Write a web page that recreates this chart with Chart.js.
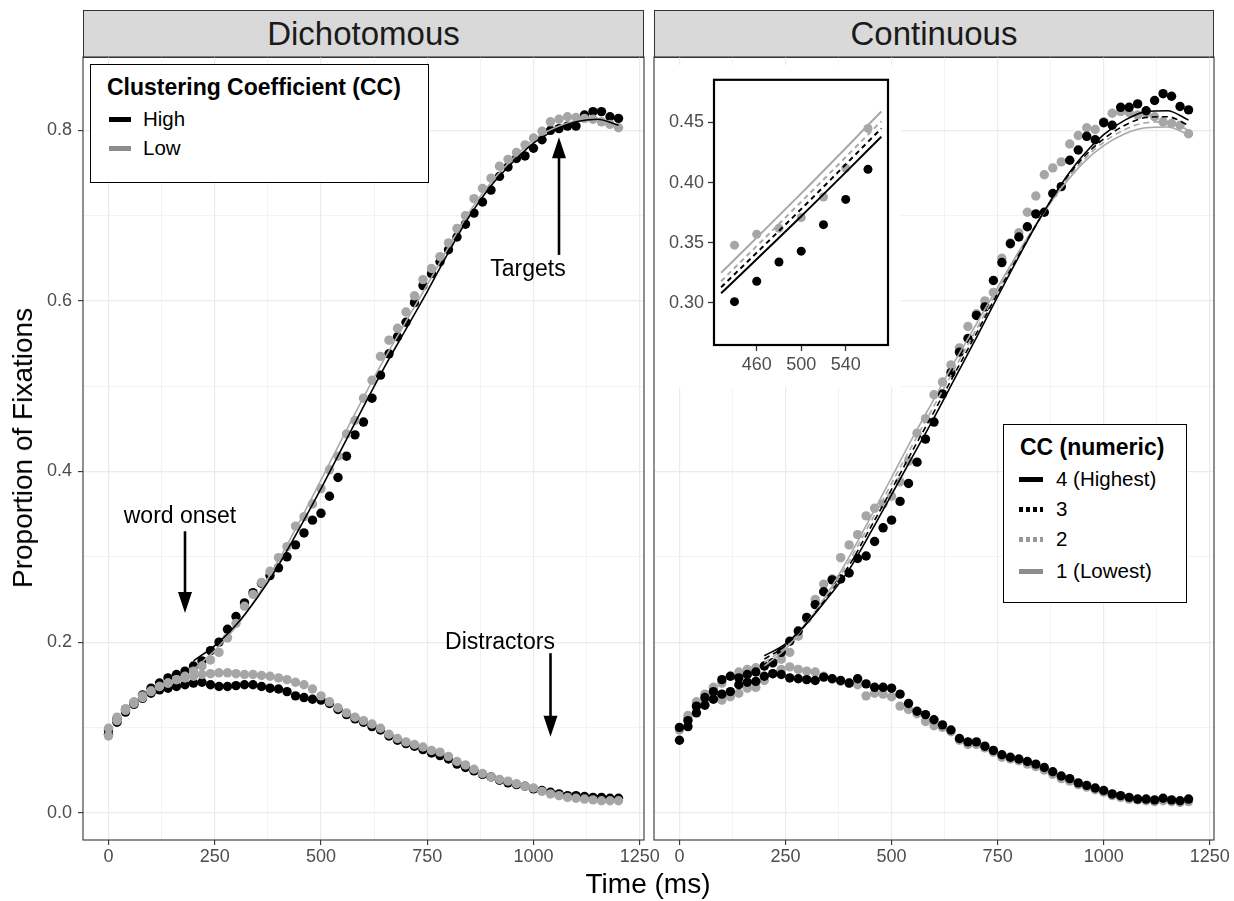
<!DOCTYPE html>
<html>
<head>
<meta charset="utf-8">
<script src="https://cdn.jsdelivr.net/npm/chart.js@4.4.0/dist/chart.umd.min.js"></script>
<style>
  body { margin: 0; width: 1234px; height: 901px; background: #fff; position: relative; overflow: hidden;
         font-family: "Liberation Sans", Arial, sans-serif; }
  canvas { position: absolute; }
  .strip { position: absolute; top: 10px; height: 48px; box-sizing: border-box; background: #d9d9d9;
           border: 1px solid #333; color: #1a1a1a; font-size: 33px; display: flex; align-items: center; justify-content: center; }
  .legend { position: absolute; box-sizing: border-box; border: 1.5px solid #000; background: #fff; }
  .legend div { position: absolute; white-space: nowrap; }
  .ltitle { font-weight: bold; font-size: 23px; line-height: 28px; transform: translateY(-50%); }
  .lab { font-size: 20.5px; line-height: 24px; transform: translateY(-50%); }
  .key { height: 5px; }
  .txt { position: absolute; white-space: nowrap; transform: translate(-50%, -50%); color: #000; }
</style>
</head>
<body>

<div class="strip" style="left:83px;width:561px">Dichotomous</div>
<div class="strip" style="left:654px;width:560px">Continuous</div>

<canvas id="dich" width="670" height="901" style="left:0;top:0"></canvas>
<canvas id="cont" width="594" height="901" style="left:640px;top:0"></canvas>
<canvas id="inset" width="246" height="322" style="left:655px;top:65px;background:#fff"></canvas>

<div class="legend" style="left:90px;top:64px;width:339px;height:119px">
  <div class="ltitle" style="left:16px;top:22px">Clustering Coefficient (CC)</div>
  <div class="key" style="left:18px;top:52px;width:22px;background:#000"></div>
  <div class="lab" style="left:52px;top:54px">High</div>
  <div class="key" style="left:18px;top:81px;width:22px;background:#8c8c8c"></div>
  <div class="lab" style="left:52px;top:83px">Low</div>
</div>

<div class="legend" style="left:1003px;top:424px;width:184px;height:179px">
  <div class="ltitle" style="left:16px;top:22px">CC (numeric)</div>
  <div class="key" style="left:15px;top:52px;width:24px;background:#000"></div>
  <div class="lab" style="left:52px;top:54px">4 (Highest)</div>
  <div class="key" style="left:15px;top:82px;width:24px;background:repeating-linear-gradient(90deg,#000 0 4px,transparent 4px 7px)"></div>
  <div class="lab" style="left:52px;top:84px">3</div>
  <div class="key" style="left:15px;top:112px;width:24px;background:repeating-linear-gradient(90deg,#999 0 4px,transparent 4px 7px)"></div>
  <div class="lab" style="left:52px;top:114px">2</div>
  <div class="key" style="left:15px;top:144px;width:24px;background:#8c8c8c"></div>
  <div class="lab" style="left:52px;top:146px">1 (Lowest)</div>
</div>

<div class="txt" style="left:180px;top:515px;font-size:23px">word onset</div>
<div class="txt" style="left:500px;top:641px;font-size:23px">Distractors</div>
<div class="txt" style="left:528px;top:268px;font-size:23px">Targets</div>
<div class="txt" style="left:648px;top:884px;font-size:28px">Time (ms)</div>
<div class="txt" style="left:23px;top:448px;font-size:28px;transform:translate(-50%,-50%) rotate(-90deg)">Proportion of Fixations</div>

<script>
// time bins (ms)
const time = [0, 20, 40, 60, 80, 100, 120, 140, 160, 180,
  200, 220, 240, 260, 280, 300, 320, 340, 360, 380,
  400, 420, 440, 460, 480, 500, 520, 540, 560, 580,
  600, 620, 640, 660, 680, 700, 720, 740, 760, 780,
  800, 820, 840, 860, 880, 900, 920, 940, 960, 980,
  1000, 1020, 1040, 1060, 1080, 1100, 1120, 1140, 1160, 1180, 1200];

// Dichotomous panel, observed proportions
const dichHighTarget = [0.097, 0.110, 0.121, 0.129, 0.138, 0.146, 0.152, 0.158, 0.162, 0.166,
  0.172, 0.178, 0.190, 0.200, 0.215, 0.230, 0.246, 0.258, 0.269, 0.278,
  0.287, 0.300, 0.314, 0.328, 0.343, 0.351, 0.371, 0.393, 0.418, 0.443,
  0.458, 0.486, 0.513, 0.538, 0.558, 0.575, 0.598, 0.618, 0.632, 0.646,
  0.660, 0.675, 0.690, 0.703, 0.716, 0.730, 0.746, 0.757, 0.767, 0.770,
  0.779, 0.789, 0.800, 0.802, 0.805, 0.805, 0.818, 0.822, 0.822, 0.816, 0.814];
const dichLowTarget = [0.099, 0.112, 0.122, 0.130, 0.137, 0.143, 0.148, 0.152, 0.156, 0.160,
  0.166, 0.172, 0.179, 0.188, 0.205, 0.222, 0.242, 0.256, 0.270, 0.283,
  0.299, 0.312, 0.336, 0.347, 0.362, 0.380, 0.402, 0.418, 0.444, 0.460,
  0.486, 0.507, 0.535, 0.554, 0.568, 0.587, 0.606, 0.625, 0.638, 0.652,
  0.668, 0.685, 0.700, 0.720, 0.732, 0.744, 0.758, 0.766, 0.774, 0.783,
  0.791, 0.799, 0.810, 0.813, 0.816, 0.815, 0.814, 0.813, 0.810, 0.807, 0.803];
const dichHighDistractor = [0.092, 0.106, 0.118, 0.127, 0.134, 0.140, 0.144, 0.146, 0.148, 0.150,
  0.152, 0.153, 0.150, 0.148, 0.148, 0.149, 0.150, 0.150, 0.148, 0.146,
  0.145, 0.142, 0.137, 0.135, 0.133, 0.132, 0.128, 0.121, 0.115, 0.110,
  0.106, 0.101, 0.097, 0.090, 0.085, 0.081, 0.078, 0.074, 0.070, 0.067,
  0.063, 0.057, 0.053, 0.049, 0.045, 0.042, 0.038, 0.035, 0.033, 0.031,
  0.028, 0.026, 0.024, 0.022, 0.020, 0.020, 0.019, 0.018, 0.018, 0.017, 0.017];
const dichLowDistractor = [0.090, 0.108, 0.120, 0.128, 0.135, 0.142, 0.148, 0.152, 0.156, 0.158,
  0.160, 0.162, 0.163, 0.164, 0.164, 0.163, 0.162, 0.162, 0.161, 0.160,
  0.158, 0.156, 0.153, 0.150, 0.145, 0.137, 0.130, 0.123, 0.117, 0.112,
  0.108, 0.104, 0.099, 0.092, 0.087, 0.083, 0.080, 0.077, 0.073, 0.071,
  0.066, 0.060, 0.056, 0.051, 0.046, 0.042, 0.039, 0.037, 0.034, 0.031,
  0.029, 0.025, 0.022, 0.020, 0.018, 0.017, 0.016, 0.015, 0.014, 0.014, 0.014];

// Continuous panel, observed proportions
const contBlackTarget = [0.100, 0.108, 0.125, 0.135, 0.142, 0.156, 0.160, 0.158, 0.162, 0.165,
  0.172, 0.176, 0.188, 0.201, 0.213, 0.229, 0.244, 0.259, 0.273, 0.274,
  0.281, 0.298, 0.301, 0.318, 0.334, 0.343, 0.365, 0.386, 0.411, 0.438,
  0.458, 0.491, 0.516, 0.540, 0.556, 0.583, 0.593, 0.624, 0.645, 0.667,
  0.675, 0.687, 0.702, 0.704, 0.726, 0.734, 0.765, 0.777, 0.793, 0.789,
  0.809, 0.806, 0.827, 0.827, 0.831, 0.823, 0.835, 0.843, 0.840, 0.828, 0.824];
const contGreyTarget = [0.098, 0.114, 0.130, 0.139, 0.147, 0.152, 0.160, 0.165, 0.168, 0.170,
  0.172, 0.175, 0.180, 0.188, 0.207, 0.227, 0.250, 0.268, 0.274, 0.299,
  0.314, 0.326, 0.348, 0.357, 0.362, 0.371, 0.388, 0.412, 0.445, 0.462,
  0.490, 0.505, 0.525, 0.545, 0.570, 0.585, 0.600, 0.610, 0.650, 0.668,
  0.680, 0.704, 0.723, 0.748, 0.756, 0.763, 0.784, 0.794, 0.803, 0.801,
  0.810, 0.820, 0.822, 0.821, 0.818, 0.820, 0.816, 0.810, 0.808, 0.806, 0.796];
const contBlackDistractor = [0.085, 0.101, 0.117, 0.126, 0.133, 0.139, 0.142, 0.150, 0.153, 0.154,
  0.160, 0.163, 0.162, 0.158, 0.157, 0.156, 0.155, 0.159, 0.157, 0.155,
  0.152, 0.157, 0.151, 0.147, 0.147, 0.146, 0.139, 0.128, 0.119, 0.115,
  0.109, 0.103, 0.097, 0.087, 0.083, 0.083, 0.078, 0.073, 0.068, 0.065,
  0.063, 0.060, 0.057, 0.053, 0.048, 0.043, 0.040, 0.035, 0.032, 0.029,
  0.026, 0.022, 0.020, 0.018, 0.016, 0.016, 0.015, 0.017, 0.015, 0.014, 0.016];
const contGreyDistractor = [0.097, 0.110, 0.124, 0.131, 0.136, 0.132, 0.136, 0.140, 0.146, 0.147,
  0.155, 0.163, 0.168, 0.171, 0.168, 0.166, 0.165, 0.160, 0.157, 0.154,
  0.152, 0.150, 0.137, 0.140, 0.139, 0.136, 0.125, 0.121, 0.116, 0.107,
  0.102, 0.100, 0.095, 0.085, 0.080, 0.080, 0.076, 0.071, 0.065, 0.063,
  0.061, 0.057, 0.054, 0.050, 0.045, 0.040, 0.037, 0.033, 0.030, 0.027,
  0.024, 0.020, 0.018, 0.016, 0.015, 0.014, 0.013, 0.014, 0.013, 0.012, 0.013];

// model fits for targets
const fitTime = [200, 250, 300, 350, 400, 450, 500, 550, 600, 650, 700,
  750, 800, 850, 900, 950, 1000, 1050, 1100, 1150, 1200];
const dichFitHigh = [0.178, 0.196, 0.220, 0.252, 0.290, 0.334, 0.380, 0.428, 0.476, 0.523, 0.567,
  0.611, 0.657, 0.700, 0.735, 0.762, 0.785, 0.800, 0.810, 0.813, 0.806];
const dichFitLow = [0.168, 0.190, 0.218, 0.254, 0.296, 0.342, 0.390, 0.439, 0.487, 0.533, 0.576,
  0.619, 0.663, 0.705, 0.739, 0.766, 0.789, 0.803, 0.811, 0.812, 0.804];
const contFit4 = [0.184, 0.198, 0.222, 0.252, 0.285, 0.328, 0.373, 0.418, 0.463, 0.510, 0.557,
  0.605, 0.652, 0.697, 0.737, 0.770, 0.795, 0.812, 0.822, 0.823, 0.812];
const contFit3 = [0.180, 0.196, 0.222, 0.254, 0.290, 0.334, 0.379, 0.425, 0.470, 0.516, 0.562,
  0.609, 0.654, 0.697, 0.736, 0.767, 0.790, 0.806, 0.815, 0.816, 0.806];
const contFit2 = [0.176, 0.194, 0.222, 0.256, 0.295, 0.340, 0.386, 0.432, 0.477, 0.522, 0.567,
  0.612, 0.656, 0.697, 0.734, 0.764, 0.786, 0.801, 0.809, 0.810, 0.800];
const contFit1 = [0.172, 0.192, 0.222, 0.258, 0.300, 0.346, 0.393, 0.440, 0.485, 0.530, 0.573,
  0.616, 0.658, 0.697, 0.732, 0.761, 0.782, 0.796, 0.803, 0.804, 0.795];

// inset (zoom on 440-560 ms)
const insetRange = [440, 560];
const insetFitTime = [428, 500, 572];
const insetFit4 = [0.308, 0.372, 0.438];
const insetFit3 = [0.313, 0.378, 0.445];
const insetFit2 = [0.318, 0.384, 0.451];
const insetFit1 = [0.325, 0.391, 0.459];

// axes
const xGrid = [0, 125, 250, 375, 500, 625, 750, 875, 1000, 1125, 1250];
const xLabels = [0, 250, 500, 750, 1000, 1250];
const yGrid = [0, 0.1, 0.2, 0.3, 0.4, 0.5, 0.6, 0.7, 0.8];
const yLabels = [0, 0.2, 0.4, 0.6, 0.8];
const insetXTicks = [460, 500, 540];
const insetYTicks = [0.30, 0.35, 0.40, 0.45];

// annotation arrows (data coordinates of the Dichotomous panel)
const arrows = [
  { time: 180, from: 0.330, to: 0.234 },
  { time: 1040, from: 0.187, to: 0.089 },
  { time: 1060, from: 0.654, to: 0.792 }
];

const FONT = '"Liberation Sans", Arial, sans-serif';
const GREY_PT = '#a6a6a6';
const GREY_LN = '#a8a8a8';
Chart.defaults.font.family = FONT;

function pts(xs, ys) { return xs.map((x, i) => ({ x: x, y: ys[i] })); }

function pointSet(xs, ys, color, r) {
  return { data: pts(xs, ys), showLine: false, pointRadius: r, pointBackgroundColor: color,
           backgroundColor: color, pointBorderWidth: 0, pointBorderColor: 'rgba(0,0,0,0)' };
}
function lineSet(xs, ys, color, w, dash) {
  return { data: pts(xs, ys), showLine: true, pointRadius: 0, borderColor: color, borderWidth: w,
           borderDash: dash || [], cubicInterpolationMode: 'monotone', fill: false };
}

const panelBorder = {
  id: 'panelBorder',
  afterDraw(chart) {
    const o = chart.options.plugins.panelBorder;
    const a = chart.chartArea, ctx = chart.ctx;
    ctx.save();
    ctx.strokeStyle = o.color;
    ctx.lineWidth = o.width;
    ctx.strokeRect(a.left, a.top, a.right - a.left, a.bottom - a.top);
    ctx.restore();
  }
};

const arrowPlugin = {
  id: 'arrows',
  afterDatasetsDraw(chart) {
    const ctx = chart.ctx, sx = chart.scales.x, sy = chart.scales.y;
    arrows.forEach(a => {
      const px = sx.getPixelForValue(a.time);
      const y0 = sy.getPixelForValue(a.from), y1 = sy.getPixelForValue(a.to);
      const d = Math.sign(y1 - y0);
      ctx.save();
      ctx.strokeStyle = '#000';
      ctx.fillStyle = '#000';
      ctx.lineWidth = 2.6;
      ctx.beginPath();
      ctx.moveTo(px, y0);
      ctx.lineTo(px, y1 - d * 16);
      ctx.stroke();
      ctx.beginPath();
      ctx.moveTo(px, y1);
      ctx.lineTo(px - 7, y1 - d * 21);
      ctx.lineTo(px + 7, y1 - d * 21);
      ctx.closePath();
      ctx.fill();
      ctx.restore();
    });
  }
};

function isIn(list, v) { return list.some(u => Math.abs(u - v) < 1e-9); }

function mainScales(showY) {
  return {
    x: {
      type: 'linear', min: -60, max: 1260,
      afterBuildTicks: s => { s.ticks = xGrid.map(v => ({ value: v })); },
      afterFit: s => { s.height = 61; },
      border: { display: false },
      grid: {
        color: '#ebebeb',
        lineWidth: c => (c.tick && isIn(xLabels, c.tick.value)) ? 1.2 : 0.6,
        tickLength: 5, tickWidth: 1.1,
        tickColor: c => (c.tick && isIn(xLabels, c.tick.value)) ? '#333' : 'rgba(0,0,0,0)'
      },
      ticks: { autoSkip: false, maxRotation: 0, padding: 1, color: '#4d4d4d', font: { size: 18 },
               callback: v => isIn(xLabels, v) ? String(v) : '' }
    },
    y: {
      type: 'linear', min: -0.032, max: 0.886,
      afterBuildTicks: s => { s.ticks = yGrid.map(v => ({ value: v })); },
      afterFit: s => { s.width = showY ? 83 : 14; },
      border: { display: false },
      grid: {
        color: '#ebebeb',
        lineWidth: c => (c.tick && isIn(yLabels, c.tick.value)) ? 1.2 : 0.6,
        drawTicks: showY, tickLength: 5, tickWidth: 1.1,
        tickColor: c => (c.tick && isIn(yLabels, c.tick.value)) ? '#333' : 'rgba(0,0,0,0)'
      },
      ticks: { display: showY, autoSkip: false, padding: 6, color: '#4d4d4d', font: { size: 18 },
               callback: v => isIn(yLabels, v) ? v.toFixed(1) : '' }
    }
  };
}

const baseOptions = (showY, padRight) => ({
  responsive: false, animation: false, events: [],
  layout: { padding: { top: 57, right: padRight, bottom: 0, left: 0 } },
  plugins: { legend: { display: false }, tooltip: { enabled: false },
             panelBorder: { color: '#333', width: 1.1 } },
  scales: mainScales(showY)
});

// Dichotomous
new Chart(document.getElementById('dich'), {
  type: 'scatter',
  data: {
    datasets: [
      lineSet(fitTime, dichFitHigh, '#000', 1.6),
      lineSet(fitTime, dichFitLow, GREY_LN, 1.6),
      pointSet(time, dichLowTarget, GREY_PT, 4.7),
      pointSet(time, dichLowDistractor, GREY_PT, 4.7),
      pointSet(time, dichHighTarget, '#000', 4.7),
      pointSet(time, dichHighDistractor, '#000', 4.7)
    ]
  },
  options: baseOptions(true, 26),
  plugins: [panelBorder, arrowPlugin]
});

// Continuous
new Chart(document.getElementById('cont'), {
  type: 'scatter',
  data: {
    datasets: [
      lineSet(fitTime, contFit4, '#000', 1.6),
      lineSet(fitTime, contFit3, '#000', 1.6, [6, 4]),
      lineSet(fitTime, contFit2, GREY_LN, 1.6, [6, 4]),
      lineSet(fitTime, contFit1, GREY_LN, 1.6),
      pointSet(time, contBlackTarget, '#000', 4.7),
      pointSet(time, contBlackDistractor, '#000', 4.7),
      pointSet(time, contGreyTarget, GREY_PT, 4.7),
      pointSet(time, contGreyDistractor, GREY_PT, 4.7)
    ]
  },
  options: baseOptions(false, 20),
  plugins: [panelBorder]
});

// Inset
const insetTime = time.filter(t => t >= insetRange[0] && t <= insetRange[1]);
const pick = arr => time.map((t, i) => arr[i]).filter((v, i) => time[i] >= insetRange[0] && time[i] <= insetRange[1]);

new Chart(document.getElementById('inset'), {
  type: 'scatter',
  data: {
    datasets: [
      lineSet(insetFitTime, insetFit4, '#000', 2),
      lineSet(insetFitTime, insetFit3, '#000', 2, [5, 4]),
      lineSet(insetFitTime, insetFit2, GREY_LN, 2, [5, 4]),
      lineSet(insetFitTime, insetFit1, GREY_LN, 2),
      pointSet(insetTime, pick(contBlackTarget), '#000', 4.5),
      pointSet(insetTime, pick(contGreyTarget), GREY_PT, 4.5)
    ]
  },
  options: {
    responsive: false, animation: false, events: [],
    layout: { padding: { top: 11, right: 13, bottom: 0, left: 0 } },
    plugins: { legend: { display: false }, tooltip: { enabled: false },
               panelBorder: { color: '#000', width: 2.2 } },
    scales: {
      x: {
        type: 'linear', min: 421.6, max: 578,
        afterBuildTicks: s => { s.ticks = insetXTicks.map(v => ({ value: v })); },
        afterFit: s => { s.height = 42; },
        border: { display: false },
        grid: { color: 'rgba(0,0,0,0)', tickColor: '#333', tickLength: 6, tickWidth: 1.3 },
        ticks: { autoSkip: false, maxRotation: 0, padding: 3, color: '#4d4d4d', font: { size: 18 },
                 callback: v => String(v) }
      },
      y: {
        type: 'linear', min: 0.265, max: 0.4854,
        afterBuildTicks: s => { s.ticks = insetYTicks.map(v => ({ value: v })); },
        afterFit: s => { s.width = 59; },
        border: { display: false },
        grid: { color: 'rgba(0,0,0,0)', tickColor: '#333', tickLength: 6, tickWidth: 1.3 },
        ticks: { autoSkip: false, padding: 4, color: '#4d4d4d', font: { size: 18 },
                 callback: v => v.toFixed(2) }
      }
    }
  },
  plugins: [panelBorder]
});
</script>
</body>
</html>
